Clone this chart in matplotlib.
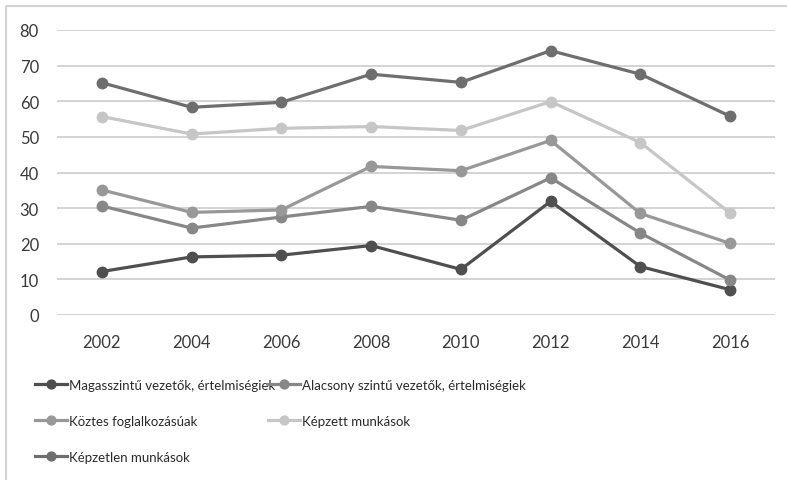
import numpy as np
import matplotlib
matplotlib.use("Agg")
import matplotlib.pyplot as plt
from matplotlib.patches import Rectangle

plt.rcParams['font.family'] = ['Lato', 'DejaVu Sans']

years = ['2002', '2004', '2006', '2008', '2010', '2012', '2014', '2016']

magas = [12.2, 16.3, 16.8, 19.5, 12.8, 31.9, 13.6, 7.1]
alacsony = [30.6, 24.4, 27.5, 30.5, 26.6, 38.5, 23.0, 9.8]
koztes = [35.1, 28.8, 29.5, 41.7, 40.5, 49.0, 28.5, 20.1]
kepzett = [55.7, 50.8, 52.4, 52.9, 51.8, 59.9, 48.4, 28.6]
kepzetlen = [65.2, 58.3, 59.7, 67.6, 65.3, 74.2, 67.6, 55.8]

names = ['Magasszintű vezetők, értelmiségiek',
         'Alacsony szintű vezetők, értelmiségiek',
         'Köztes foglalkozásúak',
         'Képzett munkások',
         'Képzetlen munkások']
colors = ['#4f4f4f', '#878787', '#989898', '#c6c6c6', '#6e6e6e']
series = [magas, alacsony, koztes, kepzett, kepzetlen]

fig = plt.figure(figsize=(7.87, 4.81), dpi=100)
ax = fig.add_axes([57/787, 1 - 316/481, 718/787, 285/481])

x = np.arange(len(years))
lines = []
for vals, name, c in zip(series, names, colors):
    ln, = ax.plot(x, vals, color=c, lw=2.3, marker='o', ms=7.5,
                  markeredgecolor=c, label=name)
    lines.append(ln)

ax.set_xlim(-0.5, len(years) - 0.5)
ax.set_ylim(0, 80)
ax.set_yticks(np.arange(0, 81, 10))
ax.set_xticks(x)
ax.set_xticklabels(years)
ax.grid(axis='y', color='#c8c8c8', lw=1.1)
ax.set_axisbelow(True)
for s in ax.spines.values():
    s.set_visible(False)
ax.tick_params(length=0, labelsize=12, colors='#3a3a3a', pad=14)
ax.tick_params(axis='y', pad=13)

# legend in two columns, row-wise order
col1 = [lines[0], lines[2], lines[4]]
col2 = [lines[1], lines[3]]
kw = dict(frameon=False, fontsize=9.5, handlelength=2.4, handletextpad=0.15,
          labelspacing=1.8, borderaxespad=0, borderpad=0, loc='upper left',
          markerscale=0.85)
leg1 = fig.legend(handles=col1, bbox_to_anchor=(35/787, 1 - 380/481), **kw)
leg2 = fig.legend(handles=col2, bbox_to_anchor=(268/787, 1 - 380/481), **kw)
for leg in (leg1, leg2):
    for t in leg.get_texts():
        t.set_color('#2a2a2a')

fig.patches.append(Rectangle((6/787, -0.2), 1.2, 1.2 - 7/481, transform=fig.transFigure,
                             fill=False, edgecolor='#d4d4d4', lw=1.5, figure=fig))

fig.savefig('out.png', dpi=100, facecolor='white')
